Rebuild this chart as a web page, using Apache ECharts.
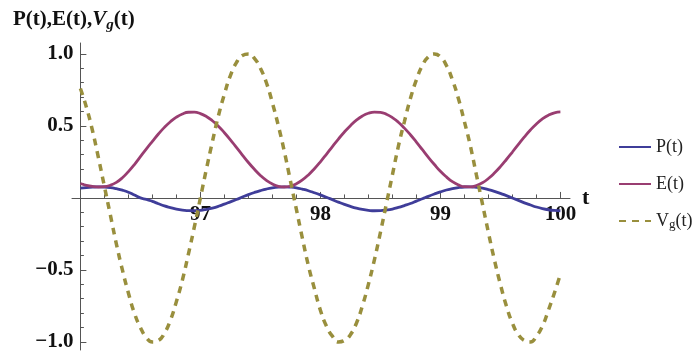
<!DOCTYPE html>
<html>
<head>
<meta charset="utf-8">
<script src="https://cdn.jsdelivr.net/npm/echarts@6/dist/echarts.min.js"></script>
<style>
  html, body { margin: 0; padding: 0; background: #fff; }
  #chart { width: 700px; height: 356px; }
</style>
</head>
<body>
<div id="chart"></div>
<script>
// time samples (t)
var tVals = [
  96.00, 96.05, 96.10, 96.15, 96.20, 96.25, 96.30, 96.35, 96.40, 96.45,
  96.50, 96.55, 96.60, 96.65, 96.70, 96.75, 96.80, 96.85, 96.90, 96.95,
  97.00, 97.05, 97.10, 97.15, 97.20, 97.25, 97.30, 97.35, 97.40, 97.45,
  97.50, 97.55, 97.60, 97.65, 97.70, 97.75, 97.80, 97.85, 97.90, 97.95,
  98.00, 98.05, 98.10, 98.15, 98.20, 98.25, 98.30, 98.35, 98.40, 98.45,
  98.50, 98.55, 98.60, 98.65, 98.70, 98.75, 98.80, 98.85, 98.90, 98.95,
  99.00, 99.05, 99.10, 99.15, 99.20, 99.25, 99.30, 99.35, 99.40, 99.45,
  99.50, 99.55, 99.60, 99.65, 99.70, 99.75, 99.80, 99.85, 99.90, 99.95,
  100.00
];

// P(t)
var pVals = [
  0.068, 0.072, 0.075, 0.077, 0.076, 0.072, 0.064, 0.054, 0.040, 0.020,
  0.000, -0.010, -0.024, -0.040, -0.055, -0.067, -0.078, -0.085, -0.088, -0.089,
  -0.086, -0.079, -0.070, -0.058, -0.043, -0.027, -0.011, 0.006, 0.023, 0.038,
  0.051, 0.062, 0.070, 0.075, 0.077, 0.075, 0.070, 0.061, 0.050, 0.036,
  0.021, 0.005, -0.012, -0.029, -0.045, -0.059, -0.071, -0.080, -0.086, -0.089,
  -0.088, -0.084, -0.077, -0.066, -0.053, -0.039, -0.022, -0.006, 0.011, 0.027,
  0.042, 0.055, 0.065, 0.072, 0.076, 0.077, 0.074, 0.068, 0.058, 0.046,
  0.032, 0.016, 0.000, -0.017, -0.034, -0.049, -0.063, -0.074, -0.082, -0.087,
  -0.089
];

// E(t)
var eVals = [
  0.100, 0.088, 0.080, 0.076, 0.078, 0.088, 0.108, 0.140, 0.183, 0.232,
  0.287, 0.341, 0.393, 0.444, 0.490, 0.529, 0.561, 0.583, 0.595, 0.596,
  0.586, 0.566, 0.536, 0.498, 0.453, 0.404, 0.351, 0.298, 0.246, 0.199,
  0.156, 0.122, 0.097, 0.081, 0.076, 0.082, 0.099, 0.125, 0.160, 0.203,
  0.251, 0.303, 0.357, 0.409, 0.458, 0.502, 0.540, 0.569, 0.588, 0.596,
  0.594, 0.581, 0.558, 0.526, 0.485, 0.439, 0.388, 0.335, 0.282, 0.232,
  0.185, 0.146, 0.113, 0.091, 0.078, 0.077, 0.086, 0.105, 0.135, 0.173,
  0.217, 0.267, 0.319, 0.372, 0.424, 0.472, 0.514, 0.549, 0.575, 0.591,
  0.597
];

// Vg(t)
var vgVals = [
  0.76, 0.63, 0.47, 0.28, 0.08, -0.12, -0.32, -0.50, -0.66, -0.80,
  -0.90, -0.97, -1.00, -0.99, -0.94, -0.85, -0.72, -0.57, -0.39, -0.20,
  0.00, 0.20, 0.39, 0.57, 0.72, 0.85, 0.94, 0.99, 1.00, 0.97,
  0.90, 0.80, 0.66, 0.50, 0.32, 0.12, -0.08, -0.28, -0.47, -0.63,
  -0.78, -0.89, -0.96, -1.00, -0.99, -0.95, -0.87, -0.75, -0.60, -0.43,
  -0.24, -0.04, 0.16, 0.36, 0.53, 0.69, 0.82, 0.92, 0.98, 1.00,
  0.98, 0.92, 0.82, 0.69, 0.53, 0.36, 0.16, -0.04, -0.24, -0.43,
  -0.60, -0.75, -0.87, -0.95, -0.99, -1.00, -0.96, -0.89, -0.78, -0.66,
  -0.53
];

var seriesNames = ['P(t)', 'E(t)', 'Vg(t)'];

// ticks
var xTicks = [97, 98, 99, 100];
var xTickLabels = ['97', '98', '99', '100'];
var xMinor = [96.2, 96.4, 96.6, 96.8, 97.2, 97.4, 97.6, 97.8, 98.2, 98.4, 98.6, 98.8, 99.2, 99.4, 99.6, 99.8];
var yTicks = [-1, -0.5, 0.5, 1];
var yTickLabels = ['\u22121.0', '\u22120.5', '0.5', '1.0'];
var yMinor = [-0.9, -0.8, -0.7, -0.6, -0.4, -0.3, -0.2, -0.1, 0.1, 0.2, 0.3, 0.4, 0.6, 0.7, 0.8, 0.9];

var FONT = 'Liberation Serif';
var AXIS_COLOR = '#555';
var X_MIN = 95.93, X_MAX = 100.08;
var Y_MIN = -1.056, Y_MAX = 1.076;
var GRID_TOP = 43, GRID_BOTTOM = 6, H = 356;
var GRID_H = H - GRID_TOP - GRID_BOTTOM;
// the t axis crosses at value 0; move it up from the grid bottom by offset
var zeroY = GRID_TOP + GRID_H * Y_MAX / (Y_MAX - Y_MIN);
var xOffset = -(GRID_TOP + GRID_H - zeroY);

function pairs(vals) {
    return tVals.map(function (t, i) { return [t, vals[i]]; });
}

var chart = echarts.init(document.getElementById('chart'), null, { renderer: 'canvas' });

var option = {
    animation: false,
    backgroundColor: '#fff',
    title: {
        text: '{b|P(t),E(t),}{v|V}{s|g}{b|(t)}',
        left: 8,
        top: 2,
        textStyle: {
            rich: {
                b: { fontFamily: FONT, fontWeight: 'bold', fontSize: 21, lineHeight: 26, color: '#111' },
                v: { fontFamily: FONT, fontWeight: 'bold', fontStyle: 'italic', fontSize: 21, lineHeight: 26, color: '#111' },
                s: { fontFamily: FONT, fontWeight: 'bold', fontStyle: 'italic', fontSize: 15, lineHeight: 15, verticalAlign: 'bottom', color: '#111' }
            }
        }
    },
    legend: {
        orient: 'vertical',
        left: 613,
        top: 132,
        itemWidth: 32,
        itemHeight: 20,
        itemGap: 17,
        data: seriesNames,
        itemStyle: { opacity: 0, borderWidth: 0 },
        formatter: function (name) {
            return name === 'Vg(t)' ? 'V{sub|g}(t)' : name;
        },
        textStyle: {
            fontFamily: FONT,
            fontSize: 18,
            lineHeight: 20,
            color: '#222',
            rich: {
                sub: { fontFamily: FONT, fontSize: 13, lineHeight: 13, verticalAlign: 'bottom', color: '#222' }
            }
        }
    },
    grid: {
        left: 72,
        right: 130,
        top: GRID_TOP,
        bottom: GRID_BOTTOM,
        outerBoundsMode: 'none'
    },
    xAxis: [{
        type: 'value',
        min: X_MIN,
        max: X_MAX,
        offset: xOffset,
        name: 't',
        nameLocation: 'end',
        nameGap: 10,
        nameTextStyle: { fontFamily: FONT, fontWeight: 'bold', fontSize: 22, color: '#111' },
        axisLine: { show: true, onZero: false, lineStyle: { color: AXIS_COLOR, width: 1 } },
        axisTick: { show: true, inside: true, length: 6, customValues: xTicks, lineStyle: { color: AXIS_COLOR } },
        axisLabel: {
            show: true,
            customValues: xTicks,
            margin: 6,
            fontFamily: FONT,
            fontWeight: 'bold',
            fontSize: 21,
            color: '#111',
            formatter: function (v) { return xTickLabels[xTicks.indexOf(v)]; }
        },
        splitLine: { show: false }
    }, {
        type: 'value',
        position: 'bottom',
        min: X_MIN,
        max: X_MAX,
        offset: xOffset,
        axisLine: { show: false, onZero: false },
        axisTick: { show: true, inside: true, length: 3.5, customValues: xMinor, lineStyle: { color: AXIS_COLOR } },
        axisLabel: { show: false },
        splitLine: { show: false }
    }],
    yAxis: [{
        type: 'value',
        min: Y_MIN,
        max: Y_MAX,
        offset: -8.4,
        axisLine: { show: true, onZero: false, lineStyle: { color: AXIS_COLOR, width: 1 } },
        axisTick: { show: true, inside: true, length: 6, customValues: yTicks, lineStyle: { color: AXIS_COLOR } },
        axisLabel: {
            show: true,
            customValues: yTicks,
            margin: 7,
            fontFamily: FONT,
            fontWeight: 'bold',
            fontSize: 21,
            color: '#111',
            formatter: function (v) { return yTickLabels[yTicks.indexOf(v)]; }
        },
        splitLine: { show: false }
    }, {
        type: 'value',
        position: 'left',
        min: Y_MIN,
        max: Y_MAX,
        offset: -8.4,
        axisLine: { show: false, onZero: false },
        axisTick: { show: true, inside: true, length: 3.5, customValues: yMinor, lineStyle: { color: AXIS_COLOR } },
        axisLabel: { show: false },
        splitLine: { show: false }
    }],
    series: [{
        name: seriesNames[0],
        type: 'line',
        data: pairs(pVals),
        smooth: true,
        showSymbol: false,
        symbol: 'none',
        lineStyle: { color: '#3f3d99', width: 2.8 },
        itemStyle: { color: '#3f3d99' }
    }, {
        name: seriesNames[1],
        type: 'line',
        data: pairs(eVals),
        smooth: true,
        showSymbol: false,
        symbol: 'none',
        lineStyle: { color: '#993d71', width: 2.8 },
        itemStyle: { color: '#993d71' }
    }, {
        name: seriesNames[2],
        type: 'line',
        data: pairs(vgVals),
        smooth: true,
        showSymbol: false,
        symbol: 'none',
        lineStyle: { color: '#998f3d', width: 3.5, type: [7, 6] },
        itemStyle: { color: '#998f3d' }
    }]
};

chart.setOption(option);
</script>
</body>
</html>
